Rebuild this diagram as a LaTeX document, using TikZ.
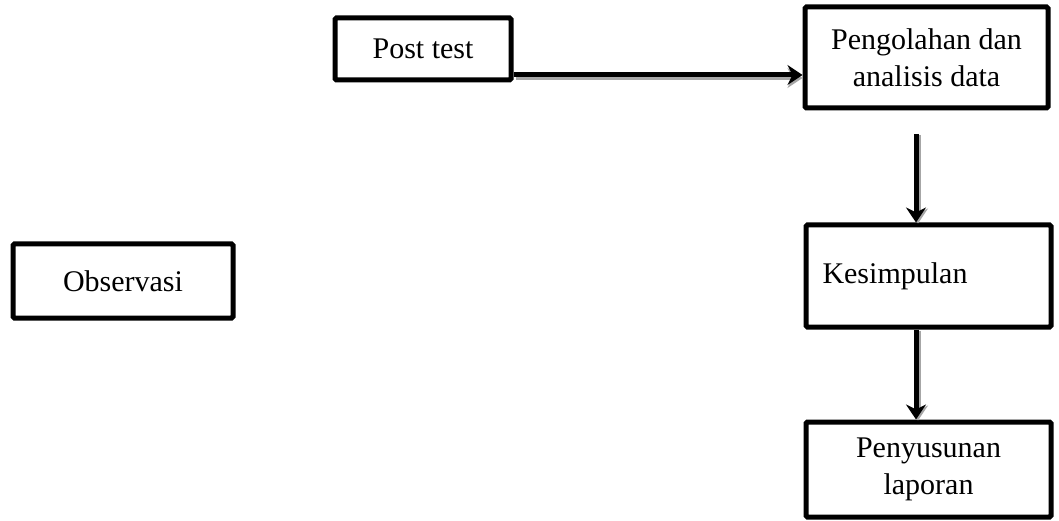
\documentclass[tikz,border=0pt]{standalone}
\usepackage{fontspec}
\setmainfont{Liberation Serif}
\usetikzlibrary{arrows.meta}
\begin{document}
\begin{tikzpicture}[x=1pt,y=-1pt,
  box/.style={draw,line width=5pt,rounded corners=1.5pt,inner sep=0pt,font=\fontsize{30}{37}\selectfont,align=center},
  arr/.style={line width=5pt,-{Stealth[length=15pt,width=20pt,inset=5pt]}},
  shadowarr/.style={line width=5pt,gray!70,-{Stealth[length=15pt,width=20pt,inset=5pt]}}]
\useasboundingbox (0,0) rectangle (1059,521);
\node[box,minimum width=176pt,minimum height=62pt] (post) at (423,49) {Post test};
\node[box,minimum width=243pt,minimum height=101pt] (olah) at (926.5,57.5) {Pengolahan dan\\analisis data};
\node[box,minimum width=245pt,minimum height=102pt,text width=212pt,align=left] (kes) at (928.5,276) {Kesimpulan};
\node[box,minimum width=245pt,minimum height=95pt] (lap) at (928.5,469.5) {Penyusunan\\laporan};
\node[box,minimum width=220pt,minimum height=74pt] (obs) at (123,281) {Observasi};
\coordinate (top) at (916,134);
% shadows
\draw[shadowarr] ([shift={(2,3)}]post.east |- 0,75) -- ([shift={(0,3)}]olah.west |- 0,75);
\draw[shadowarr] ([shift={(2,1)}]top) -- ([shift={(2,1)}]top |- kes.north);
\draw[shadowarr] ([shift={(2,1)}]kes.south -| top) -- ([shift={(2,1)}]top |- lap.north);
% arrows
\draw[arr] (post.east |- 0,75) -- (olah.west |- 0,75);
\draw[arr] (top) -- (top |- kes.north);
\draw[arr] (kes.south -| top) -- (top |- lap.north);
\end{tikzpicture}
\end{document}
